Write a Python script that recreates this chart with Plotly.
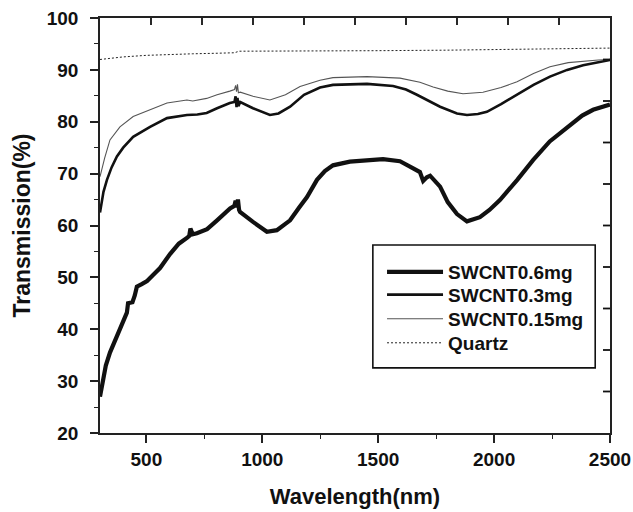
import plotly.graph_objects as go

# ---- data ----
quartz_x = [300, 350, 400, 500, 600, 700, 800, 880, 900, 1000, 1200, 1500, 1800, 2000, 2200, 2500]
quartz_y = [92.0, 92.3, 92.5, 92.8, 93.0, 93.1, 93.2, 93.3, 93.6, 93.6, 93.7, 93.7, 93.8, 93.9, 94.0, 94.2]

s015_x = [300, 320, 343, 386, 443, 516, 589, 675, 700, 760, 805, 860, 880, 885, 889, 893, 897, 905,
          960, 1033, 1100, 1163, 1249, 1305, 1452, 1594, 1680, 1737, 1800, 1866, 1952, 2030, 2099,
          2170, 2241, 2320, 2384, 2450, 2500]
s015_y = [69.4, 73.0, 76.5, 79.0, 81.0, 82.3, 83.6, 84.2, 84.0, 84.5, 85.2, 85.9, 86.2, 87.0, 85.8, 87.2, 85.6, 85.7,
          84.9, 84.2, 85.2, 86.8, 88.0, 88.5, 88.7, 88.4, 87.6, 86.7, 85.9, 85.4, 85.7, 86.6, 87.7,
          89.3, 90.6, 91.4, 91.7, 91.9, 92.0]

s03_x = [300, 315, 330, 350, 373, 400, 443, 516, 589, 675, 720, 760, 805, 860, 880, 885, 889, 893, 897, 905,
         960, 1033, 1070, 1120, 1180, 1249, 1305, 1452, 1564, 1620, 1667, 1767, 1840, 1883, 1930, 1969,
         2030, 2099, 2170, 2241, 2315, 2384, 2450, 2500]
s03_y = [62.5, 66.5, 68.8, 71.2, 73.3, 75.0, 77.1, 79.0, 80.7, 81.3, 81.4, 81.7, 82.6, 83.6, 83.8, 84.9, 82.8, 84.6, 83.0, 83.8,
         82.6, 81.3, 81.6, 82.9, 85.2, 86.6, 87.1, 87.3, 86.9, 86.2, 85.2, 82.9, 81.6, 81.3, 81.5, 81.9,
         83.4, 85.2, 87.1, 88.7, 90.0, 90.9, 91.5, 91.9]

s06_x = [300, 312, 325, 343, 365, 386, 405, 416, 421, 440, 450, 459, 480, 503, 530, 559, 602, 640, 675, 685,
         690, 700, 718, 762, 805, 861, 880, 885, 890, 895, 900, 904, 960, 1020, 1063, 1120, 1160, 1193,
         1236, 1270, 1305, 1378, 1521, 1594, 1651, 1680, 1694, 1710, 1724, 1767, 1800, 1840, 1883, 1939,
         1980, 2025, 2100, 2168, 2240, 2315, 2380, 2427, 2500]
s06_y = [27.0, 30.2, 33.0, 35.5, 37.8, 39.8, 41.8, 43.2, 45.0, 45.2, 46.5, 48.2, 48.7, 49.3, 50.5, 51.8, 54.5, 56.5, 57.6, 58.0,
         59.4, 58.3, 58.5, 59.3, 61.0, 63.3, 63.8, 64.8, 63.5, 65.0, 63.0, 62.6, 60.7, 58.8, 59.1, 61.0, 63.5, 65.5,
         68.8, 70.5, 71.6, 72.3, 72.8, 72.4, 71.0, 70.3, 68.6, 69.3, 69.6, 67.5, 64.5, 62.2, 60.8, 61.6,
         63.0, 64.9, 68.8, 72.6, 76.2, 79.0, 81.2, 82.3, 83.3]

x_ticks = [500, 1000, 1500, 2000, 2500]
y_ticks = [20, 30, 40, 50, 60, 70, 80, 90, 100]
# the top and right frame edges carry 10 evenly spaced, unlabelled inward ticks
frame_divisions = 10

FONT = "Liberation Sans, Arial, Helvetica, sans-serif"
AX = "#222222"

fig = go.Figure()
fig.add_trace(go.Scatter(x=s06_x, y=s06_y, mode="lines", name="SWCNT0.6mg", legend="legend",
                         line=dict(color="#111111", width=4.2)))
fig.add_trace(go.Scatter(x=s03_x, y=s03_y, mode="lines", name="SWCNT0.3mg", legend="legend2",
                         line=dict(color="#111111", width=2.6)))
fig.add_trace(go.Scatter(x=s015_x, y=s015_y, mode="lines", name="SWCNT0.15mg", legend="legend3",
                         line=dict(color="#555555", width=1.1)))
fig.add_trace(go.Scatter(x=quartz_x, y=quartz_y, mode="lines", name="Quartz", legend="legend4",
                         line=dict(color="#222222", width=1, dash="2px,2px")))

leg_common = dict(xanchor="left", yanchor="middle", bgcolor="rgba(0,0,0,0)", borderwidth=0,
                  font=dict(size=19, family=FONT, weight="bold", color="#111111"), itemwidth=56)
leg_x = 0.553
leg_rows = [0.388, 0.333, 0.275, 0.217]

# frame ticks on the top and right edges (decoration of the axes frame)
shapes = []
for i in range(1, frame_divisions):
    f = i / frame_divisions
    shapes.append(dict(type="line", xref="x domain", yref="y domain", x0=f, x1=f,
                       ysizemode="pixel", yanchor=1, y0=0, y1=-7,
                       line=dict(color="#111111", width=1.8), layer="above"))
    shapes.append(dict(type="line", xref="x domain", yref="y domain", y0=f, y1=f,
                       xsizemode="pixel", xanchor=1, x0=0, x1=-7,
                       line=dict(color="#111111", width=1.8), layer="above"))
# legend frame
shapes.append(dict(type="rect", xref="paper", yref="paper", x0=0.535, x1=0.971, y0=0.157, y1=0.453,
                   line=dict(color="#111111", width=1.6), fillcolor="rgba(0,0,0,0)", layer="above"))

fig.update_layout(
    width=633, height=512,
    margin=dict(l=100, r=23, t=18, b=79, autoexpand=False),
    paper_bgcolor="white", plot_bgcolor="white",
    font=dict(family=FONT, size=18, color="#111111", weight="bold"),
    xaxis=dict(range=[300, 2500], tickvals=x_ticks, ticktext=[str(v) for v in x_ticks],
               ticks="outside", ticklen=8, tickwidth=1.6, tickcolor=AX, automargin=False,
               showline=True, mirror=True, linecolor=AX, linewidth=1.6, showgrid=False, zeroline=False,
               minor=dict(dtick=250, tick0=0, ticks="outside", ticklen=4, tickwidth=1.3, tickcolor=AX),
               tickfont=dict(size=19, family=FONT, weight="bold", color="#111111"),
               ticklabelstandoff=0,
               title=dict(text="Wavelength(nm)", font=dict(size=22, family=FONT, weight="bold"), standoff=20)),
    yaxis=dict(range=[20, 100], tickvals=y_ticks, ticktext=[str(v) for v in y_ticks],
               ticks="outside", ticklen=8, tickwidth=1.6, tickcolor=AX, automargin=False,
               showline=True, mirror=True, linecolor=AX, linewidth=1.6, showgrid=False, zeroline=False,
               minor=dict(dtick=5, tick0=0, ticks="outside", ticklen=4, tickwidth=1.3, tickcolor=AX),
               tickfont=dict(size=19, family=FONT, weight="bold", color="#111111"),
               ticklabelstandoff=8,
               title=dict(text="Transmission(%)", font=dict(size=23, family=FONT, weight="bold"), standoff=10)),
    legend=dict(x=leg_x, y=leg_rows[0], **leg_common),
    legend2=dict(x=leg_x, y=leg_rows[1], **leg_common),
    legend3=dict(x=leg_x, y=leg_rows[2], **leg_common),
    legend4=dict(x=leg_x, y=leg_rows[3], **leg_common),
    shapes=shapes,
    showlegend=True,
)

fig.write_html("out.html", config={"displayModeBar": False},
               post_script="document.body.style.margin='0';document.body.style.padding='0';"
                           "document.body.style.overflow='hidden';")
